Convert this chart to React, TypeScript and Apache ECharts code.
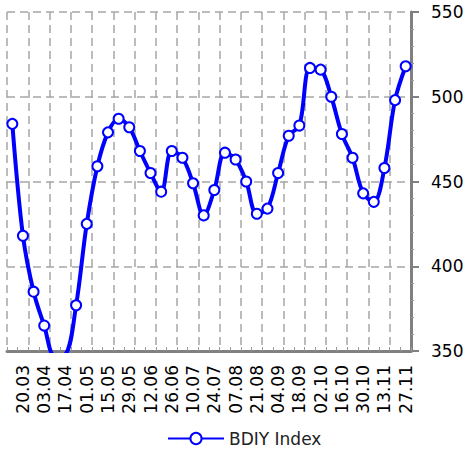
import React, { useEffect, useRef } from "react";
import * as echarts from "echarts";

const categories: string[] = [
  "13.03", "20.03", "27.03", "03.04", "10.04", "17.04", "24.04", "01.05",
  "08.05", "15.05", "22.05", "29.05", "05.06", "12.06", "19.06", "26.06",
  "03.07", "10.07", "17.07", "24.07", "31.07", "07.08", "14.08", "21.08",
  "28.08", "04.09", "11.09", "18.09", "25.09", "02.10", "09.10", "16.10",
  "23.10", "30.10", "06.11", "13.11", "20.11", "27.11",
];

const bdiyValues: number[] = [
  484, 418, 385, 365, 347, 348, 377, 425,
  459, 479, 487, 482, 468, 455, 444, 468,
  464, 449, 430, 445, 467, 463, 450, 431,
  434, 455, 477, 483, 517, 516, 500, 478,
  464, 443, 438, 458, 498, 518,
];

const seriesName = "BDIY Index";
const yTicks = { min: 350, max: 550, interval: 50 };

export default function App() {
  const ref = useRef<HTMLDivElement>(null);
  useEffect(() => {
    if (!ref.current) return;
    const chart = echarts.init(ref.current, undefined, { renderer: "svg" });
    const font = "DejaVu Sans";
    chart.setOption({
      animation: false,
      backgroundColor: "#ffffff",
      textStyle: { fontFamily: font },
      grid: { left: 7, right: 59, top: 12, bottom: 103, containLabel: false },
      legend: {
        left: 162,
        top: 425,
        itemWidth: 56,
        itemHeight: 14,
        itemGap: 5,
        textStyle: { fontFamily: font, fontSize: 17, color: "#222" },
        data: [seriesName],
      },
      xAxis: {
        type: "category",
        data: categories,
        boundaryGap: true,
        axisLine: { show: true, lineStyle: { color: "#808080", width: 3 } },
        axisTick: {
          show: true,
          inside: true,
          length: 4,
          interval: 0,
          lineStyle: { color: "#9a9a9a", width: 1 },
        },
        axisLabel: {
          rotate: 90,
          interval: (i: number) => i % 2 === 1,
          fontFamily: font,
          fontSize: 17,
          color: "#000",
          margin: 14,
        },
        splitLine: {
          show: true,
          interval: (i: number) => i % 2 === 0,
          lineStyle: { color: "#a6a6a6", width: 1.5, type: [8, 5] },
        },
      },
      yAxis: {
        type: "value",
        position: "right",
        min: yTicks.min,
        max: yTicks.max,
        interval: yTicks.interval,
        axisLine: { show: true, lineStyle: { color: "#808080", width: 3 } },
        axisTick: { show: true, length: 8, lineStyle: { color: "#808080", width: 2 } },
        minorTick: { show: true, splitNumber: 5, length: 3, lineStyle: { color: "#9a9a9a" } },
        axisLabel: { fontFamily: font, fontSize: 17, color: "#000", margin: 20 },
        splitLine: {
          show: true,
          lineStyle: { color: "#a6a6a6", width: 1.5, type: [8, 5] },
        },
      },
      series: [
        {
          name: seriesName,
          type: "line",
          data: bdiyValues,
          smooth: 0.35,
          clip: true,
          symbol: "circle",
          symbolSize: 10,
          showAllSymbol: true,
          lineStyle: { color: "#0000ff", width: 4 },
          itemStyle: { color: "#ffffff", borderColor: "#0000ff", borderWidth: 2 },
          z: 3,
        },
      ],
    });
    return () => chart.dispose();
  }, []);
  return (
    <div
      ref={ref}
      style={{ position: "fixed", left: 0, top: 0, width: 470, height: 454 }}
    />
  );
}
